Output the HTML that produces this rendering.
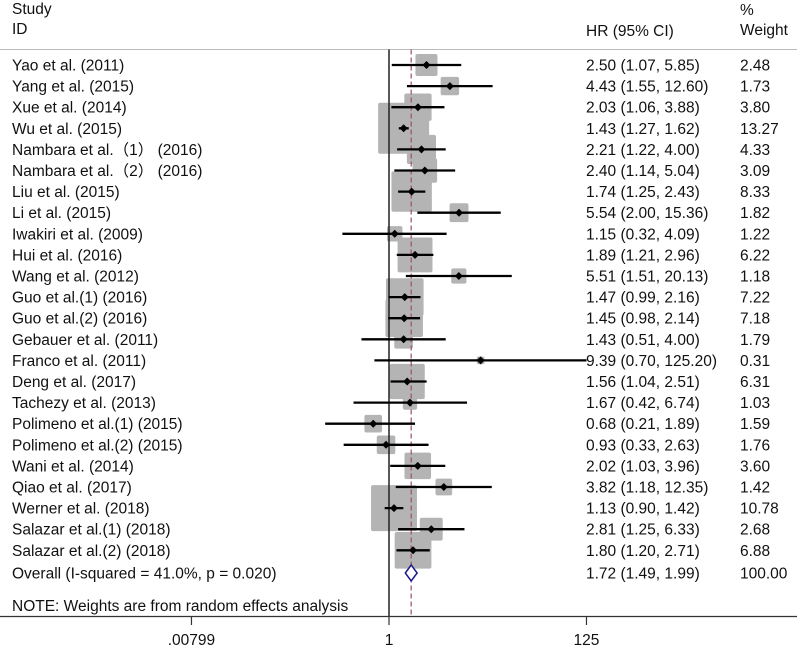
<!DOCTYPE html>
<html><head><meta charset="utf-8"><style>
body{margin:0;background:#fff;}
svg text{font-family:"Liberation Sans","Noto Sans CJK SC",sans-serif;font-size:15.5px;fill:#111;}
</style></head><body>
<svg id="c" width="797" height="648" xmlns="http://www.w3.org/2000/svg">
<text x="12" y="14">Study</text>
<text x="12" y="34">ID</text>
<text x="586" y="36">HR (95% CI)</text>
<text x="740" y="15">%</text>
<text x="740" y="35">Weight</text>
<line x1="0" y1="49.5" x2="797" y2="49.5" stroke="#bbb" stroke-width="1"/>
<g id="marks"></g>
<line x1="0" y1="616.5" x2="797" y2="616.5" stroke="#333" stroke-width="1.3"/>
<text x="12" y="611">NOTE: Weights are from random effects analysis</text>
<g id="axis"></g>
</svg>
<script>
const studies=["Yao et al. (2011)","Yang et al. (2015)","Xue et al. (2014)","Wu et al. (2015)","Nambara et al.（1） (2016)","Nambara et al.（2） (2016)","Liu et al. (2015)","Li et al. (2015)","Iwakiri et al. (2009)","Hui et al. (2016)","Wang et al. (2012)","Guo et al.(1) (2016)","Guo et al.(2) (2016)","Gebauer et al. (2011)","Franco et al. (2011)","Deng et al. (2017)","Tachezy et al. (2013)","Polimeno et al.(1) (2015)","Polimeno et al.(2) (2015)","Wani et al. (2014)","Qiao et al. (2017)","Werner et al. (2018)","Salazar et al.(1) (2018)","Salazar et al.(2) (2018)"];
const hr=[2.50,4.43,2.03,1.43,2.21,2.40,1.74,5.54,1.15,1.89,5.51,1.47,1.45,1.43,9.39,1.56,1.67,0.68,0.93,2.02,3.82,1.13,2.81,1.80];
const lo=[1.07,1.55,1.06,1.27,1.22,1.14,1.25,2.00,0.32,1.21,1.51,0.99,0.98,0.51,0.70,1.04,0.42,0.21,0.33,1.03,1.18,0.90,1.25,1.20];
const hi=[5.85,12.60,3.88,1.62,4.00,5.04,2.43,15.36,4.09,2.96,20.13,2.16,2.14,4.00,125.20,2.51,6.74,1.89,2.63,3.96,12.35,1.42,6.33,2.71];
const weights=[2.48,1.73,3.80,13.27,4.33,3.09,8.33,1.82,1.22,6.22,1.18,7.22,7.18,1.79,0.31,6.31,1.03,1.59,1.76,3.60,1.42,10.78,2.68,6.88];
const overall=[1.72,1.49,1.99];
const overallText="Overall  (I-squared = 41.0%, p = 0.020)";
const tickVals=[0.00799,1,125];
const tickLabels=[".00799","1","125"];
const NS="http://www.w3.org/2000/svg";
const X=v=>389+Math.log(v)*40.9;
const Y=i=>65+i*21.1;
const fmt=v=>v.toFixed(2);
const g=document.getElementById('marks'), ax=document.getElementById('axis');
function mk(tag,attrs,parent){const e=document.createElementNS(NS,tag);for(const k in attrs)e.setAttribute(k,attrs[k]);parent.appendChild(e);return e;}
studies.forEach((s,i)=>{const sz=14*Math.sqrt(weights[i]);const b=mk('rect',{x:X(hr[i])-sz/2,y:Y(i)-sz/2,width:sz,height:sz,rx:2,fill:'#b4b4b4'},g);

});
const nl=mk('line',{x1:X(1),y1:49.5,x2:X(1),y2:616,stroke:'#222','stroke-width':1.5},g);


const dl=mk('line',{x1:X(overall[0]),y1:49.5,x2:X(overall[0]),y2:616,stroke:'#a0505a','stroke-width':1.2,'stroke-dasharray':'5,3'},g);


studies.forEach((s,i)=>{
 const y=Y(i);
 const l=mk('line',{x1:X(lo[i]),y1:y,x2:X(hi[i]),y2:y,stroke:'#000','stroke-width':2.3},g);
 
 
 const p=mk('path',{d:`M${X(hr[i])-4},${y}L${X(hr[i])},${y-4}L${X(hr[i])+4},${y}L${X(hr[i])},${y+4}Z`,fill:'#000'},g);
 
 
 const t=mk('text',{x:12,y:y+5.5},g);t.textContent=s;
 
 
 const h=mk('text',{x:586,y:y+5.5},g);h.textContent=`${fmt(hr[i])} (${fmt(lo[i])}, ${fmt(hi[i])})`;
 
 
 const w=mk('text',{x:740,y:y+5.5},g);w.textContent=fmt(weights[i]);
 
 
});
const oy=573;
const d=mk('path',{d:`M${X(overall[1])},${oy}L${X(overall[0])},${oy-8}L${X(overall[2])},${oy}L${X(overall[0])},${oy+8}Z`,fill:'#fff',stroke:'#1a1a8c','stroke-width':1.5},g);


const ot=mk('text',{x:12,y:oy+5.5},g);ot.textContent=overallText;


const oh=mk('text',{x:586,y:oy+5.5},g);oh.textContent=`${fmt(overall[0])} (${fmt(overall[1])}, ${fmt(overall[2])})`;


const ow=mk('text',{x:740,y:oy+5.5},g);ow.textContent="100.00";


tickVals.forEach((v,i)=>{
 const tk=mk('line',{x1:X(v),y1:616,x2:X(v),y2:625,stroke:'#333','stroke-width':1.2},ax);
 
 
 const tl=mk('text',{x:X(v),y:645,'text-anchor':'middle'},ax);tl.textContent=tickLabels[i];
 
 
});
</script>
</body></html>
